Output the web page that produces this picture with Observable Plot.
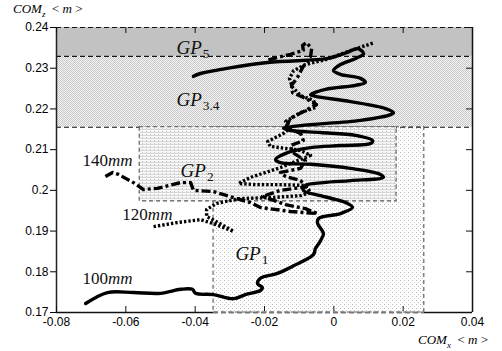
<!DOCTYPE html>
<html><head><meta charset="utf-8">
<script src="https://cdn.jsdelivr.net/npm/d3@7"></script>
<script src="https://cdn.jsdelivr.net/npm/@observablehq/plot@0.6"></script>
<style>
body{margin:0;background:#fff;}
#wrap{position:relative;width:502px;height:351px;}
.lab{position:absolute;font-family:"Liberation Serif",serif;font-size:13px;white-space:nowrap;line-height:1;}
.lab i{font-style:italic;}
.lab sub{font-size:9px;font-style:italic;}
</style></head><body>
<svg width="0" height="0" style="position:absolute">
 <defs>
  <pattern id="checker" width="2" height="2" patternUnits="userSpaceOnUse">
   <rect width="2" height="2" fill="#f4f4f4"/>
   <rect width="1" height="1" fill="#c8c8c8"/>
   <rect x="1" y="1" width="1" height="1" fill="#c8c8c8"/>
  </pattern>
  <pattern id="dots" width="4" height="4" patternUnits="userSpaceOnUse">
   <rect width="4" height="4" fill="#ffffff"/>
   <rect width="1" height="1" fill="#b8b8b8"/>
   <rect x="2" y="2" width="1" height="1" fill="#c8c8c8"/>
  </pattern>
  <pattern id="hlines" width="4" height="3" patternUnits="userSpaceOnUse">
   <rect width="4" height="3" fill="#f8f8f8"/>
   <rect width="4" height="1" fill="#d6d6d6"/>
   <rect x="2" y="2" width="1" height="1" fill="#c4c4c4"/>
  </pattern>
 </defs>
</svg>
<div id="wrap"></div>
<script>
const xTicks = [-0.08,-0.06,-0.04,-0.02,0,0.02,0.04];
const yTicks = [0.17,0.18,0.19,0.2,0.21,0.22,0.23,0.24];

const regionNames = ["GP5","GP34","GP1","GP2"];
const regionX1 = [-0.08,-0.08,-0.0347,-0.056];
const regionX2 = [0.04,0.04,0.0261,0.0181];
const regionY1 = [0.2329,0.2155,0.17,0.1973];
const regionY2 = [0.24,0.2329,0.2155,0.2155];

const gpLabels = ["GP_5","GP_3.4","GP_2","GP_1"];
const gpX = [-0.0454,-0.0454,-0.0442,-0.0284];
const gpY = [0.2336,0.2206,0.2032,0.1828];

const curveLabels = ["140mm","120mm","100mm"];
const curveLabelX = [-0.0725,-0.0610,-0.0725];
const curveLabelY = [0.2059,0.1926,0.1771];

const c100X = [-0.0716,-0.0653,-0.0578,-0.0500,-0.0442,-0.0408,-0.0399,-0.0347,-0.0289,-0.0255,-0.0212,-0.0206,-0.0220,-0.0212,-0.0163,-0.0116,-0.0059,-0.0053,-0.0038,-0.0030,-0.0047,-0.0044,0.0019,0.0054,0.0034,-0.0038,-0.0088,-0.0082,-0.0030,0.0048,0.0143,0.0129,0.0048,-0.0067,-0.0154,-0.0168,-0.0139,-0.0067,0.0019,0.0106,0.0112,0.0063,-0.0038,-0.0125,-0.0145,-0.0096,0.0077,0.0164,0.0172,0.0149,0.0048,-0.0053,-0.0067,-0.0024,0.0063,0.0091,0.0077,0.0019,-0.0001,0.0019,0.0063,0.0086,0.0068,0.0039,-0.0018,-0.0191,-0.0385,-0.0405];
const c100Y = [0.1722,0.1749,0.1749,0.1747,0.1757,0.1757,0.1747,0.1744,0.1734,0.1744,0.1754,0.1761,0.1771,0.1784,0.1796,0.1815,0.1842,0.1857,0.1877,0.1894,0.1919,0.1931,0.1943,0.1958,0.1970,0.1987,0.2000,0.2012,0.2019,0.2024,0.2032,0.2041,0.2054,0.2064,0.2068,0.2076,0.2091,0.2105,0.2110,0.2115,0.2122,0.2135,0.2142,0.2147,0.2152,0.2159,0.2172,0.2186,0.2191,0.2201,0.2218,0.2231,0.2235,0.2248,0.2258,0.2265,0.2275,0.2285,0.2294,0.2309,0.2324,0.2336,0.2348,0.2339,0.2324,0.2314,0.2287,0.2280];

const c140X = [-0.0659,-0.0638,-0.0621,-0.0578,-0.0549,-0.0509,-0.0442,-0.0413,-0.0405,-0.0347,-0.0289,-0.0240,-0.0212,-0.0125,-0.0047,-0.0082,-0.0139,-0.0206,-0.0154,-0.0079,-0.0096,-0.0139,-0.0154,-0.0096,-0.0082,-0.0119,-0.0125,-0.0088,-0.0096,-0.0139,-0.0125,-0.0082,-0.0050,-0.0082,-0.0119,-0.0122,-0.0105,-0.0090,-0.0067,-0.0064,-0.0079,-0.0090,-0.0088,-0.0125,-0.0197];
const c140Y = [0.2034,0.2044,0.2039,0.2019,0.2002,0.2005,0.2019,0.2019,0.2000,0.1997,0.1982,0.1970,0.1958,0.1948,0.1943,0.1955,0.1965,0.1985,0.2000,0.2009,0.2024,0.2034,0.2044,0.2054,0.2073,0.2093,0.2110,0.2122,0.2140,0.2154,0.2177,0.2196,0.2211,0.2226,0.2240,0.2258,0.2277,0.2302,0.2329,0.2348,0.2363,0.2356,0.2344,0.2334,0.2319];

const c120X = [-0.0520,-0.0451,-0.0385,-0.0350,-0.0289,-0.0313,-0.0367,-0.0367,-0.0338,-0.0269,-0.0183,-0.0096,-0.0067,-0.0082,-0.0154,-0.0226,-0.0275,-0.0240,-0.0154,-0.0067,-0.0096,-0.0183,-0.0191,-0.0145,-0.0125,-0.0139,-0.0096,-0.0050,-0.0059,-0.0096,-0.0119,-0.0128,-0.0116,-0.0082,-0.0024,0.0034,0.0117];
const c120Y = [0.1911,0.1921,0.1928,0.1919,0.1899,0.1911,0.1936,0.1953,0.1968,0.1980,0.1982,0.1987,0.1995,0.2012,0.2014,0.2014,0.2017,0.2032,0.2056,0.2086,0.2098,0.2108,0.2120,0.2140,0.2154,0.2169,0.2191,0.2204,0.2221,0.2233,0.2253,0.2275,0.2294,0.2309,0.2321,0.2339,0.2363];

const regions = regionNames.map((n,i)=>({name:n,x1:regionX1[i],x2:regionX2[i],y1:regionY1[i],y2:regionY2[i]}));
const R = Object.fromEntries(regions.map(r=>[r.name,r]));
const zip = (X,Y)=>X.map((x,i)=>({x,y:Y[i]}));
const gp = gpLabels.map((t,i)=>({t,x:gpX[i],y:gpY[i]}));
const cl = curveLabels.map((t,i)=>({t,x:curveLabelX[i],y:curveLabelY[i]}));
const fmt = d => String(+d.toFixed(2));

const W=502,H=351,ML=56,MR=30,MT=27,MB=39;
const fw=W-ML-MR, fh=H-MT-MB;

const fills = {GP5:"#c2c2c2",GP34:"url(#checker)",GP1:"url(#dots)",GP2:"url(#hlines)"};
const regionMark = (name, opts) => Plot.rect([R[name]], {x1:"x1",x2:"x2",y1:"y1",y2:"y2",...opts});

const plot = Plot.plot({
  width:W, height:H, marginLeft:ML, marginRight:MR, marginTop:MT, marginBottom:MB,
  style:{fontFamily:"'Liberation Sans', Arial, sans-serif", fontSize:"12px", background:"white", color:"black"},
  x:{domain:[xTicks[0], xTicks[xTicks.length-1]], ticks:xTicks, tickFormat:fmt, tickSize:0, tickPadding:5, label:null},
  y:{domain:[yTicks[0], yTicks[yTicks.length-1]], ticks:yTicks, tickFormat:fmt, tickSize:6, tickPadding:2, label:null},
  marks:[
    regionMark("GP5",{fill:fills.GP5}),
    regionMark("GP34",{fill:fills.GP34}),
    regionMark("GP1",{fill:fills.GP1}),
    Plot.ruleY([R.GP5.y1, R.GP34.y1],{stroke:"#111", strokeWidth:1.1, strokeDasharray:"5,3"}),
    // frame
    Plot.ruleX([xTicks[0]],{stroke:"#222", strokeWidth:1.5}),
    Plot.ruleX([xTicks[xTicks.length-1]],{stroke:"#111", strokeWidth:1.5}),
    Plot.ruleY([yTicks[0]],{stroke:"#111", strokeWidth:1.5}),
    Plot.ruleY([yTicks[yTicks.length-1]],{stroke:"#111", strokeWidth:1.2, strokeDasharray:"5,3"}),
    // inner ticks
    Plot.ruleX(xTicks,{stroke:"#111", insetTop:fh-6}),
    Plot.ruleX(xTicks,{stroke:"#111", insetBottom:fh-6}),
    Plot.ruleY(yTicks,{stroke:"#111", insetLeft:fw-6}),
    // GP1 border
    Plot.ruleY([R.GP1],{y:"y1", x1:"x1", x2:"x2", stroke:"white", strokeWidth:3}),
    regionMark("GP1",{fill:"none", stroke:"#555", strokeWidth:1.1, strokeDasharray:"4,3"}),
    Plot.ruleY([R.GP1],{y:"y1", x1:"x1", x2:"x2", stroke:"#777", strokeWidth:2.2, strokeDasharray:"5,3"}),
    regionMark("GP2",{fill:fills.GP2, stroke:"#555", strokeWidth:1.1, strokeDasharray:"4,3"}),
    Plot.text(gp,{x:"x", y:"y", text:"t", textAnchor:"start", lineAnchor:"bottom", fontFamily:"'Liberation Serif', serif", fontSize:19, fill:"#111"}),
    Plot.text(cl,{x:"x", y:"y", text:"t", textAnchor:"start", lineAnchor:"bottom", fontFamily:"'Liberation Serif', serif", fontSize:17, fill:"#111"}),
    // curves
    Plot.line(zip(c120X,c120Y),{x:"x", y:"y", stroke:"black", strokeWidth:3.4, strokeDasharray:"2.4,2", strokeLinecap:"butt"}),
    Plot.line(zip(c140X,c140Y),{x:"x", y:"y", stroke:"black", strokeWidth:3.4, strokeDasharray:"9,3,3,3", strokeLinecap:"butt"}),
    Plot.line(zip(c100X,c100Y),{x:"x", y:"y", stroke:"black", strokeWidth:3.4, curve:"catmull-rom", strokeLinejoin:"round"})
  ]
});

// rich text for labels: letters italic, digits upright, "_" => subscript
const ns = "http://www.w3.org/2000/svg";
plot.querySelectorAll('g[aria-label="text"] text').forEach(t=>{
  const s = t.textContent;
  const [main, sub] = s.split("_");
  t.textContent = "";
  for (const m of main.match(/[A-Za-z]+|[^A-Za-z]+/g)) {
    const ts = document.createElementNS(ns,"tspan");
    ts.textContent = m;
    ts.setAttribute("font-style", /[A-Za-z]/.test(m) ? "italic" : "normal");
    t.appendChild(ts);
  }
  if (sub) {
    const ts = document.createElementNS(ns,"tspan");
    ts.textContent = sub;
    ts.setAttribute("font-size","0.7em");
    ts.setAttribute("dy","0.3em");
    ts.setAttribute("dx","1");
    t.appendChild(ts);
  }
});

const wrap = document.getElementById("wrap");
wrap.appendChild(plot);
const l1 = document.createElement("div");
l1.className="lab"; l1.style.left="13px"; l1.style.top="2px";
l1.innerHTML = "<i>COM</i><sub>z</sub> &nbsp;&lt; <i>m</i> &gt;";
wrap.appendChild(l1);
const l2 = document.createElement("div");
l2.className="lab"; l2.style.left="418px"; l2.style.top="333px";
l2.innerHTML = "<i>COM</i><sub>x</sub> &nbsp;&lt; <i>m</i> &gt;";
wrap.appendChild(l2);
</script>
</body></html>
